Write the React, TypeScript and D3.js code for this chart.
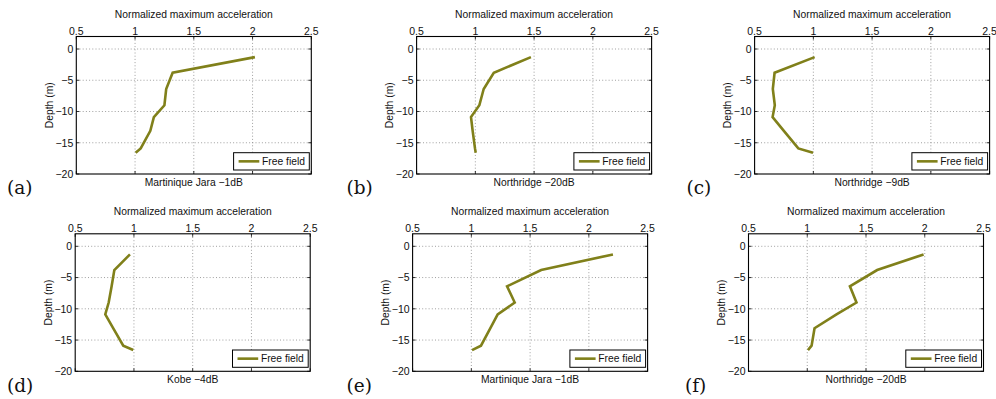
import React from "react";
import * as d3 from "d3";

const depths = [-1.3, -3.8, -6.4, -9.0, -10.9, -13.1, -15.9, -16.6];
const accA = [2.02, 1.32, 1.265, 1.25, 1.16, 1.13, 1.048, 1.005];
const accB = [1.473, 1.157, 1.071, 1.034, 0.963, 0.977, 0.997, 1.003];
const accC = [1.011, 0.67, 0.655, 0.672, 0.653, 0.749, 0.872, 0.997];
const accD = [0.966, 0.833, 0.81, 0.785, 0.756, 0.823, 0.909, 0.994];
const accE = [2.205, 1.594, 1.304, 1.369, 1.224, 1.162, 1.082, 1.006];
const accF = [1.99, 1.595, 1.363, 1.419, 1.249, 1.062, 1.037, 1.006];

const xTicks = [0.5, 1, 1.5, 2, 2.5];
const xTickLabels = ["0.5", "1", "1.5", "2", "2.5"];
const yTicks = [0, -5, -10, -15, -20];
const yTickLabels = ["0", "\u22125", "\u221210", "\u221215", "\u221220"];
const panelLetters = ["(a)", "(b)", "(c)", "(d)", "(e)", "(f)"];
const panelCaptions = [
  "Martinique Jara \u22121dB",
  "Northridge \u221220dB",
  "Northridge \u22129dB",
  "Kobe \u22124dB",
  "Martinique Jara \u22121dB",
  "Northridge \u221220dB",
];
const seriesList = [accA, accB, accC, accD, accE, accF];
const xTitle = "Normalized maximum acceleration";
const yTitle = "Depth (m)";
const legendLabel = "Free field";

// layout (positions only)
const layout = [
  { left: 76.3, top: 36.5, letterX: 7, letterY: 194 },
  { left: 416.6, top: 36.5, letterX: 346.5, letterY: 194 },
  { left: 754.6, top: 36.5, letterX: 686.5, letterY: 194 },
  { left: 75.2, top: 233.8, letterX: 7, letterY: 392 },
  { left: 412.6, top: 233.8, letterX: 346.5, letterY: 392 },
  { left: 748.5, top: 233.8, letterX: 685, letterY: 392 },
];
const W = 235;
const H = 137.5;
const COLOR = "#80801a";
const FONT = "'Liberation Sans', Arial, sans-serif";

function Panel({ idx }: { idx: number }) {
  const { left, top, letterX, letterY } = layout[idx];
  const x = d3.scaleLinear().domain([0.5, 2.5]).range([left, left + W]);
  const y = d3.scaleLinear().domain([-20, 2]).range([top + H, top]);
  const vals = seriesList[idx];
  const pts: [number, number][] = vals.map((v, i) => [v, depths[i]]);
  const line = d3
    .line<[number, number]>()
    .x((d) => x(d[0]))
    .y((d) => y(d[1]));
  const right = left + W;
  const bottom = top + H;
  const lgW = 75.7;
  const lgH = 17.3;
  const lgX = right - 2 - lgW;
  const lgY = bottom - 4 - lgH;
  const tl = 3;
  return (
    <g>
      {/* grid */}
      {xTicks.slice(1, -1).map((t) => (
        <line
          key={"gx" + t}
          x1={x(t)}
          x2={x(t)}
          y1={top}
          y2={bottom}
          stroke="#888"
          strokeWidth={0.8}
          strokeDasharray="1,2.2"
        />
      ))}
      {yTicks.slice(0, -1).map((t) => (
        <line
          key={"gy" + t}
          x1={left}
          x2={right}
          y1={y(t)}
          y2={y(t)}
          stroke="#888"
          strokeWidth={0.8}
          strokeDasharray="1,2.2"
        />
      ))}
      {/* ticks */}
      {xTicks.map((t) => (
        <g key={"tx" + t}>
          <line x1={x(t)} x2={x(t)} y1={top} y2={top + tl} stroke="#000" strokeWidth={0.8} />
          <line x1={x(t)} x2={x(t)} y1={bottom} y2={bottom - tl} stroke="#000" strokeWidth={0.8} />
        </g>
      ))}
      {yTicks.map((t) => (
        <g key={"ty" + t}>
          <line x1={left} x2={left + tl} y1={y(t)} y2={y(t)} stroke="#000" strokeWidth={0.8} />
          <line x1={right} x2={right - tl} y1={y(t)} y2={y(t)} stroke="#000" strokeWidth={0.8} />
        </g>
      ))}
      {/* data */}
      <path d={line(pts) || ""} fill="none" stroke={COLOR} strokeWidth={2.6} strokeLinejoin="miter" />
      {/* box */}
      <rect x={left} y={top} width={W} height={H} fill="none" stroke="#000" strokeWidth={1.1} />
      {/* tick labels */}
      {xTicks.map((t, i) => (
        <text
          key={"lx" + t}
          x={x(t)}
          y={top - 1.5}
          textAnchor="middle"
          fontFamily={FONT}
          fontSize={10.5}
          fill="#111"
        >
          {xTickLabels[i]}
        </text>
      ))}
      {yTicks.map((t, i) => (
        <text
          key={"ly" + t}
          x={left - 3}
          y={y(t)}
          dy="0.36em"
          textAnchor="end"
          fontFamily={FONT}
          fontSize={10.5}
          fill="#111"
        >
          {yTickLabels[i]}
        </text>
      ))}
      {/* titles */}
      <text
        x={left + W / 2}
        y={top - 18.5}
        textAnchor="middle"
        fontFamily={FONT}
        fontSize={10.3}
        fill="#111"
      >
        {xTitle}
      </text>
      <text
        x={left + W / 2}
        y={bottom + 12}
        textAnchor="middle"
        fontFamily={FONT}
        fontSize={10.3}
        fill="#111"
      >
        {panelCaptions[idx]}
      </text>
      <text
        transform={`translate(${left - 27.3},${top + H / 2}) rotate(-90)`}
        dy="0.35em"
        textAnchor="middle"
        fontFamily={FONT}
        fontSize={10.3}
        fill="#111"
      >
        {yTitle}
      </text>
      {/* legend */}
      <rect x={lgX} y={lgY} width={lgW} height={lgH} fill="#fff" stroke="#000" strokeWidth={1} />
      <line
        x1={lgX + 5}
        x2={lgX + 25.7}
        y1={lgY + lgH / 2}
        y2={lgY + lgH / 2}
        stroke={COLOR}
        strokeWidth={2.6}
      />
      <text
        x={lgX + 28.4}
        y={lgY + lgH / 2}
        dy="0.36em"
        fontFamily={FONT}
        fontSize={10.3}
        fill="#111"
      >
        {legendLabel}
      </text>
      {/* panel letter */}
      <text x={letterX} y={letterY} fontFamily="'DejaVu Serif', serif" fontSize={18.5} fill="#111">
        {panelLetters[idx]}
      </text>
    </g>
  );
}

export default function App() {
  return (
    <svg
      width={996}
      height={399}
      viewBox="0 0 996 399"
      style={{ position: "absolute", left: 0, top: 0, background: "#fff" }}
    >
      <rect x={0} y={0} width={996} height={399} fill="#fff" />
      {layout.map((_, i) => (
        <Panel key={i} idx={i} />
      ))}
    </svg>
  );
}
